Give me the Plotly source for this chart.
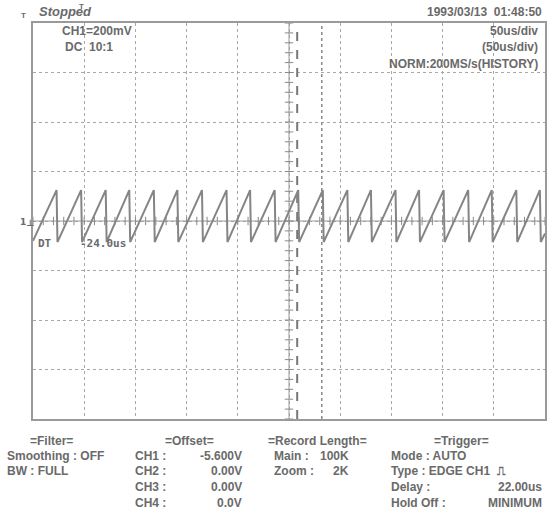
import numpy as np
import plotly.graph_objects as go

peak_times_us = [23, 47, 71, 94, 118, 141, 165, 189, 212, 236, 259,
                 283, 307, 330, 354, 377, 401, 425, 448, 472, 495]
peak_mv = 125
trough_mv = -85
fall_us = 0.9
start_mv = -80
end_mv = -50
cursor_us = [258, 282]

time_div_us = 50
volt_div_mv = 200

# ---- build waveform vertices ----
xs = [0]
ys = [start_mv]
for p in peak_times_us:
    xs += [p, p + fall_us]
    ys += [peak_mv, trough_mv]
xs.append(500)
ys.append(end_mv)

W, H = 555, 515
L, R, T, B = 33, 547, 23, 419

def px(x):
    return (x - L) / (R - L)

def py(y):
    return 1 - (y - T) / (B - T)

TXT = '#6a6a6a'
GRID = '#a8a8a8'
SANS = 'Liberation Sans Narrow, Liberation Sans, Arial'

fig = go.Figure()

# centre cross-hair ticks
tick_x = np.arange(0, 500.1, time_div_us / 5)
tick_y = np.arange(-800, 800.1, volt_div_mv / 5)
fig.add_trace(go.Scatter(x=[250, 250], y=[-800, 800], mode='lines',
                         line=dict(color='#9a9a9a', width=1), hoverinfo='skip'))
fig.add_trace(go.Scatter(x=[0, 500], y=[0, 0], mode='lines',
                         line=dict(color='#9a9a9a', width=1), hoverinfo='skip'))
fig.add_trace(go.Scatter(x=tick_x, y=np.zeros_like(tick_x), mode='markers',
                         marker=dict(symbol='line-ns', size=6,
                                     line=dict(color='#8a8a8a', width=1)),
                         hoverinfo='skip'))
fig.add_trace(go.Scatter(x=np.full_like(tick_y, 250), y=tick_y, mode='markers',
                         marker=dict(symbol='line-ew', size=6,
                                     line=dict(color='#8a8a8a', width=1)),
                         hoverinfo='skip'))

# cursors
fig.add_trace(go.Scatter(x=[cursor_us[0]] * 2, y=[-800, 800], mode='lines',
                         line=dict(color='#777777', width=2, dash='dash'),
                         hoverinfo='skip'))
fig.add_trace(go.Scatter(x=[cursor_us[1]] * 2, y=[-800, 800], mode='lines',
                         line=dict(color='#8a8a8a', width=1.5, dash='dot'),
                         hoverinfo='skip'))

# waveform
fig.add_trace(go.Scatter(x=xs, y=ys, mode='lines',
                         line=dict(color='#858585', width=2), hoverinfo='skip'))

ann = []

def text(x, y, s, anchor='left', size=12, family=SANS, italic=False, color=TXT):
    ann.append(dict(x=px(x), y=py(y), xref='paper', yref='paper', text=s,
                    showarrow=False, xanchor=anchor, yanchor='middle',
                    font=dict(family=family, size=size, color=color,
                              weight='bold', style='italic' if italic else 'normal')))

text(37, 11, 'Stopped', size=13, family='Liberation Sans, Arial', italic=True)
text(19, 15, 'T', size=8, family='Liberation Sans')
text(77, 6, 'T', size=8, family='Liberation Sans')
text(60, 31, 'CH1=200mV', size=12)
text(63, 47, 'DC  10:1', size=12)
text(546, 12, '1993/03/13  01:48:50', anchor='right', size=12)
text(542, 31, '50us/div', anchor='right', size=12)
text(542, 47, '(50us/div)', anchor='right', size=12)
text(542, 64, 'NORM:200MS/s(HISTORY)', anchor='right', size=12)
text(36, 243, 'DT', size=11, family='DejaVu Sans Mono')
text(78, 243, '-24.0us', size=11, family='DejaVu Sans Mono')
text(18, 222, '1', size=9, family='DejaVu Sans')
text(24, 223, '⊥', size=9, family='DejaVu Sans')

# bottom panel
text(52, 441, '=Filter=', anchor='center')
text(5, 456, 'Smoothing : OFF')
text(5, 471, 'BW : FULL')

text(190, 441, '=Offset=', anchor='center')
for i, (ch, val) in enumerate([('CH1 :', '-5.600V'), ('CH2 :', '0.00V'),
                               ('CH3 :', '0.00V'), ('CH4 :', '0.0V')]):
    yy = [456, 471, 487, 503][i]
    text(133, yy, ch)
    text(245, yy, val, anchor='right')

text(319, 441, '=Record Length=', anchor='center')
text(273, 456, 'Main :')
text(352, 456, '100K', anchor='right')
text(273, 471, 'Zoom :')
text(352, 471, '2K', anchor='right')

text(463, 441, '=Trigger=', anchor='center')
text(390, 456, 'Mode : AUTO')
text(390, 471, 'Type : EDGE CH1  ⎍')
text(390, 487, 'Delay :')
text(546, 487, '22.00us', anchor='right')
text(390, 503, 'Hold Off :')
text(546, 503, 'MINIMUM', anchor='right')

axis_common = dict(showline=True, mirror=True, linecolor='#9a9a9a', linewidth=2,
                   showgrid=True, gridcolor=GRID, griddash='dot', gridwidth=1,
                   zeroline=False, showticklabels=False, ticks='', fixedrange=True)

fig.update_layout(
    width=W, height=H,
    margin=dict(l=L, r=W - R, t=T, b=H - B),
    paper_bgcolor='white', plot_bgcolor='white',
    showlegend=False,
    xaxis=dict(range=[0, 500], dtick=time_div_us, tick0=0, **axis_common),
    yaxis=dict(range=[-800, 800], dtick=volt_div_mv, tick0=-800, **axis_common),
    annotations=ann,
)

fig.write_html('out.html', config={'displayModeBar': False},
               post_script="document.body.style.margin='0';document.body.style.overflow='hidden';")
